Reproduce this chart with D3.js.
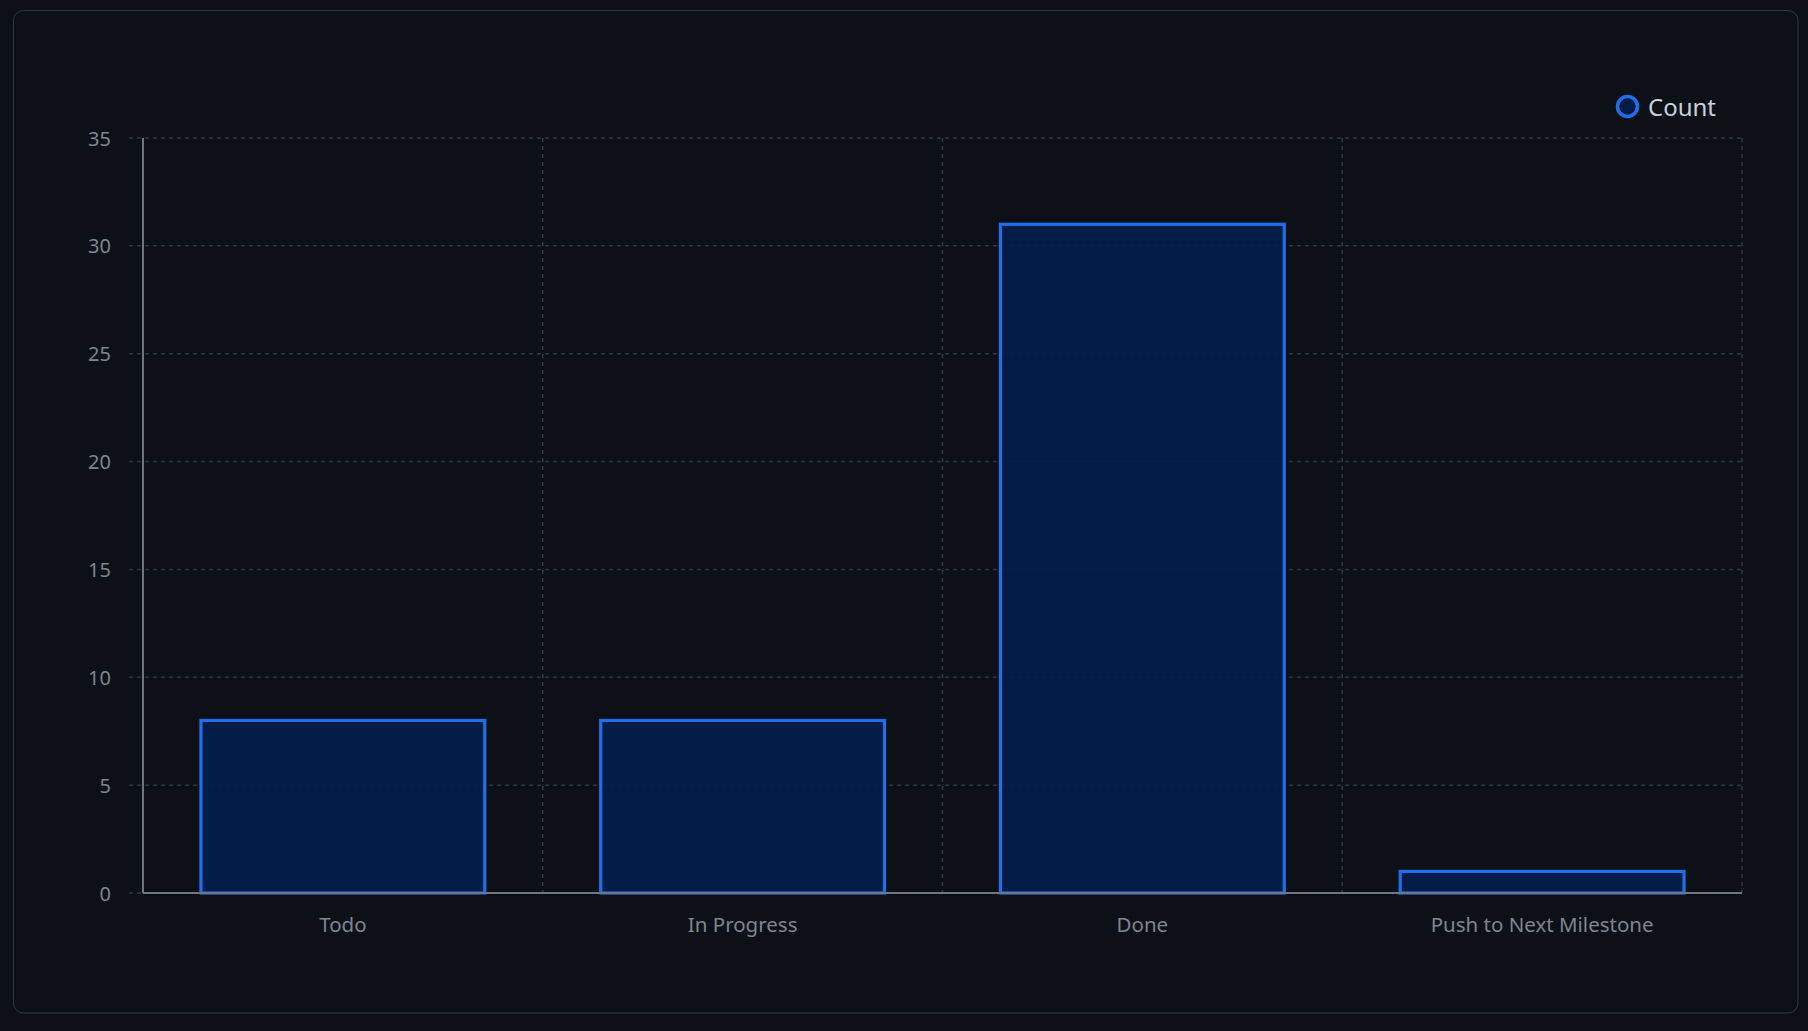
<!DOCTYPE html>
<html>
<head>
<meta charset="utf-8">
<script src="https://cdn.jsdelivr.net/npm/d3@7"></script>
<style>
  html, body { margin: 0; padding: 0; background: #0d1117; }
  svg { display: block; }
</style>
</head>
<body>
<svg id="chart"></svg>
<script>
const categories = ["Todo", "In Progress", "Done", "Push to Next Milestone"];
const counts = [8, 8, 31, 1];
const yTicks = [0, 5, 10, 15, 20, 25, 30, 35];
const seriesName = "Count";

const width = 1808;
const height = 1031;
const margin = { top: 138, right: 66, bottom: 138, left: 143 };
const font = "'Noto Sans', 'Open Sans', sans-serif";

const svg = d3.select("#chart")
    .attr("width", width)
    .attr("height", height);

// card
svg.append("rect")
    .attr("x", 13.5)
    .attr("y", 10.5)
    .attr("width", 1784.5)
    .attr("height", 1002.5)
    .attr("rx", 10)
    .attr("fill", "#0d1117")
    .attr("stroke", "#30363d")
    .attr("stroke-width", 1);

const x = d3.scaleBand()
    .domain(categories)
    .range([margin.left, width - margin.right])
    .paddingInner(0)
    .paddingOuter(0);

const y = d3.scaleLinear()
    .domain([0, 35])
    .range([height - margin.bottom, margin.top]);

// horizontal grid (with tick stubs to the left)
svg.append("g")
    .selectAll("line")
    .data(yTicks)
    .join("line")
    .attr("x1", margin.left - 14)
    .attr("x2", width - margin.right)
    .attr("y1", d => y(d))
    .attr("y2", d => y(d))
    .attr("stroke", "#30363d")
    .attr("stroke-width", 1.5)
    .attr("stroke-dasharray", "4,4");

// vertical grid at category boundaries
const bounds = categories.map(c => x(c) + x.bandwidth());
svg.append("g")
    .selectAll("line")
    .data(bounds)
    .join("line")
    .attr("x1", d => d)
    .attr("x2", d => d)
    .attr("y1", margin.top)
    .attr("y2", height - margin.bottom)
    .attr("stroke", "#30363d")
    .attr("stroke-width", 1.5)
    .attr("stroke-dasharray", "4,4");

// y tick labels
svg.append("g")
    .selectAll("text")
    .data(yTicks)
    .join("text")
    .attr("x", margin.left - 32)
    .attr("y", d => y(d))
    .attr("text-anchor", "end")
    .attr("dominant-baseline", "central")
    .attr("font-family", font)
    .attr("font-size", 20)
    .attr("fill", "#7d8590")
    .text(d => d);

// bars
const barW = x.bandwidth() * 0.71;
svg.append("g")
    .selectAll("rect")
    .data(counts)
    .join("rect")
    .attr("x", (d, i) => x(categories[i]) + (x.bandwidth() - barW) / 2)
    .attr("y", d => y(d))
    .attr("width", barW)
    .attr("height", d => y(0) - y(d))
    .attr("fill", "rgba(3,30,80,0.88)")
    .attr("stroke", "#1f6feb")
    .attr("stroke-width", 3.2);

// axes lines
svg.append("line")
    .attr("x1", margin.left)
    .attr("x2", margin.left)
    .attr("y1", margin.top)
    .attr("y2", y(0))
    .attr("stroke", "#6e7681")
    .attr("stroke-width", 2);

svg.append("line")
    .attr("x1", margin.left)
    .attr("x2", width - margin.right)
    .attr("y1", y(0))
    .attr("y2", y(0))
    .attr("stroke", "#6e7681")
    .attr("stroke-width", 2);

// x labels
svg.append("g")
    .selectAll("text")
    .data(categories)
    .join("text")
    .attr("x", d => x(d) + x.bandwidth() / 2)
    .attr("y", 932)
    .attr("text-anchor", "middle")
    .attr("font-family", font)
    .attr("font-size", 20.5)
    .attr("fill", "#7d8590")
    .text(d => d);

// legend
const legend = svg.append("g");
legend.append("circle")
    .attr("cx", 1627.5)
    .attr("cy", 106.5)
    .attr("r", 10)
    .attr("fill", "rgba(3,30,80,0.88)")
    .attr("stroke", "#1f6feb")
    .attr("stroke-width", 3.5);
legend.append("text")
    .attr("x", 1648)
    .attr("y", 106.5)
    .attr("dominant-baseline", "central")
    .attr("font-family", font)
    .attr("font-size", 24)
    .attr("fill", "#c9d1d9")
    .text(seriesName);
</script>
</body>
</html>
